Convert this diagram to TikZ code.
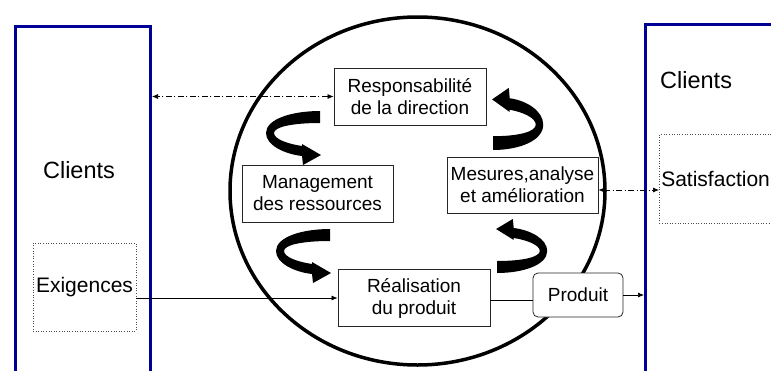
\documentclass[tikz,border=0pt]{standalone}
\usepackage{fontspec}
\setmainfont{Liberation Sans}
\usetikzlibrary{arrows.meta,calc}
\definecolor{clientblue}{RGB}{0,0,150}
\begin{document}
\begin{tikzpicture}[x=1pt,y=-1pt,
  box/.style={draw=black!85, line width=0.8pt, minimum width=152pt, minimum height=57pt,
    align=center, inner sep=0pt, font=\fontsize{19}{22}\selectfont},
  dotbox/.style={draw=black!70, dotted, line width=0.6pt, inner sep=0pt},
  clientrect/.style={draw=clientblue, line width=3pt, inner sep=0pt},
  bigtext/.style={inner sep=0pt, font=\fontsize{23.5}{28}\selectfont},
  midtext/.style={font=\fontsize{21}{25}\selectfont},
  conn/.style={draw=black, line width=0.7pt},
  arr/.style={-{Latex[length=6pt,width=5pt]}},
  biarr/.style={{Latex[length=6pt,width=5pt]}-{Latex[length=6pt,width=5pt]}},
  dd/.style={dash pattern=on 6pt off 2.5pt on 1pt off 2.5pt},
  looparrow/.pic={
    \fill[black] (0,0) .. controls (-28,0) and (-54,8) .. (-54,22)
      .. controls (-54,34) and (-36,43) .. (-18,45)
      -- (-17,54) -- (1,44) -- (-18,33) -- (-18,35)
      .. controls (-32,33) and (-46,28) .. (-46,22)
      .. controls (-46,16) and (-28,12) .. (0,12) -- cycle;
  }]
\useasboundingbox (0,0) rectangle (771,370);

% client columns
\node[clientrect, anchor=north west, minimum width=135pt, minimum height=420pt] (cl) at (14,25) {};
\node[clientrect, anchor=north west, minimum width=220pt, minimum height=420pt] (cr) at (644,23) {};
\node[bigtext] (cltxt) at (79,170) {Clients};
\node[bigtext, anchor=west] (crtxt) at (660,80) {Clients};

% dotted boxes
\node[dotbox, midtext, minimum width=103pt, minimum height=88pt] (exig) at (84.5,287) {Exigences};
\node[dotbox, midtext, anchor=north west, minimum width=140pt, minimum height=89pt,
      text width=136pt, align=left, inner sep=1pt] (sat) at (659,134) {Satisfaction};

% big circle
\draw[line width=3.5pt] (417.5,191) ellipse [x radius=187.5pt, y radius=174pt];

% process boxes
\node[box, fill=white] (resp) at (410,96.5) {Responsabilité\\de la direction};
\node[box, fill=white, minimum width=151pt] (mgmt) at (317.5,193.5) {Management\\des ressources};
\node[box, fill=white, minimum width=151pt, minimum height=56pt] (mes) at (522.5,185) {Mesures,analyse\\et amélioration};
\node[box, fill=white] (real) at (414,298) {Réalisation\\du produit};
\node[box, fill=white, rounded corners=5pt, minimum width=90pt, minimum height=44pt] (prod) at (578,295) {Produit};

% loop arrows
\pic at (320,111) {looparrow};
\pic at (330,229) {looparrow};
\pic[rotate=180, xscale=0.93, yscale=1.15] at (493,150) {looparrow};
\pic[rotate=180, xscale=0.93] at (497,273) {looparrow};

% connectors
\draw[conn, dd, biarr] (resp.west) -- (resp.west -| cl.east);
\draw[conn, dd, biarr] ([yshift=-5pt]mes.east) -- ([yshift=-5pt]mes.east -| sat.west);
\draw[conn, arr] (real.west -| exig.east) -- (real.west);
\draw[conn] ([yshift=-2.5pt]real.east) -- ([yshift=-2.5pt]real.east -| prod.west);
\draw[conn, arr] (prod.east) -- (prod.east -| cr.west);
\end{tikzpicture}
\end{document}
